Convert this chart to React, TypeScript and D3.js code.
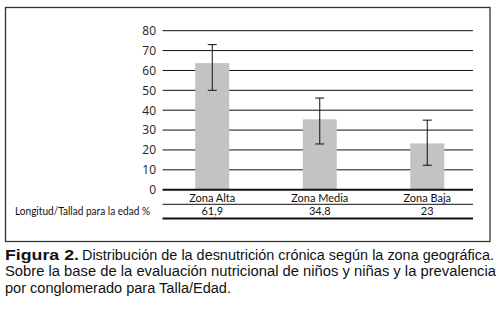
import React from "react";
import * as d3 from "d3";

const categories = ["Zona Alta", "Zona Media", "Zona Baja"];
const tableValues = ["61,9", "34,8", "23"];
const barValues = [63.7, 35.4, 23.3];
const errLow = [50, 23, 12.3];
const errHigh = [73, 46.1, 35];
const yTicks = [0, 10, 20, 30, 40, 50, 60, 70, 80];
const rowLabel = "Longitud/Tallad para la edad %";
const captionBold = "Figura 2.";
const captionLine1 = "Distribución de la desnutrición crónica según la zona geográfica.";
const captionLine2 = "Sobre la base de la evaluación nutricional de niños y niñas y la prevalencia";
const captionLine3 = "por conglomerado para Talla/Edad.";

export default function App() {
  const W = 499, H = 311;
  const y = d3.scaleLinear().domain([0, 80]).range([189.7, 30.7]);
  const pi = 0.684;
  const x = d3.scaleBand<string>().domain(categories).range([158.5, 481]).paddingInner(pi).paddingOuter(pi / 2);
  const gx0 = 162.5, gx1 = 473;
  const font = "Lato, 'Open Sans', sans-serif";
  const tickFont = "'Open Sans', Lato, sans-serif";
  const capFont = "'Liberation Sans', Arial, sans-serif";
  const cap = 4.5;
  return (
    <svg width={W} height={H} style={{ position: "absolute", left: 0, top: 0, background: "#fff" }}>
      <rect x={0} y={0} width={W} height={H} fill="#fff" />
      <rect x={5.5} y={7.5} width={484.5} height={234} fill="none" stroke="#333" strokeWidth={1.3} />
      {yTicks.map((t) => (
        <g key={t}>
          {t !== 0 && <line x1={gx0} x2={gx1} y1={y(t)} y2={y(t)} stroke="#111" strokeWidth={1} />}
          <text x={156} y={y(t)} dy="0.36em" textAnchor="end" fontFamily={tickFont} fontSize={12} fill="#222">{t}</text>
        </g>
      ))}
      {categories.map((c, i) => {
        const cx = (x(c) as number) + x.bandwidth() / 2;
        return (
          <g key={c}>
            <rect x={x(c)} width={x.bandwidth()} y={y(barValues[i])} height={y(0) - y(barValues[i])} fill="#c3c3c3" />
            <line x1={cx} x2={cx} y1={y(errHigh[i])} y2={y(errLow[i])} stroke="#111" strokeWidth={1} />
            <line x1={cx - cap} x2={cx + cap} y1={y(errHigh[i])} y2={y(errHigh[i])} stroke="#111" strokeWidth={1} />
            <line x1={cx - cap} x2={cx + cap} y1={y(errLow[i])} y2={y(errLow[i])} stroke="#111" strokeWidth={1} />
            <text x={cx} y={201.5} textAnchor="middle" fontFamily={font} fontSize={11} fill="#111">{c}</text>
            <text x={cx} y={214.5} textAnchor="middle" fontFamily={font} fontSize={11} fill="#111">{tableValues[i]}</text>
          </g>
        );
      })}
      <line x1={gx0} x2={gx1} y1={y(0)} y2={y(0)} stroke="#111" strokeWidth={2} />
      <line x1={gx0} x2={gx1} y1={204.3} y2={204.3} stroke="#111" strokeWidth={1} />
      <line x1={gx0} x2={gx1} y1={218.5} y2={218.5} stroke="#111" strokeWidth={2} />
      <text x={15} y={214.5} fontFamily={font} fontSize={11} fill="#111" textLength={135} lengthAdjust="spacingAndGlyphs">{rowLabel}</text>
      <text x={5} y={259.5} fontFamily={capFont} fontSize={14} fontWeight="bold" fill="#111" textLength={74} lengthAdjust="spacingAndGlyphs">{captionBold}</text>
      <text x={82} y={259.5} fontFamily={capFont} fontSize={14} fill="#111" textLength={412} lengthAdjust="spacingAndGlyphs">{captionLine1}</text>
      <text x={5} y={276.2} fontFamily={capFont} fontSize={14} fill="#111" textLength={491} lengthAdjust="spacingAndGlyphs">{captionLine2}</text>
      <text x={5} y={292.9} fontFamily={capFont} fontSize={14} fill="#111" textLength={226} lengthAdjust="spacingAndGlyphs">{captionLine3}</text>
    </svg>
  );
}
